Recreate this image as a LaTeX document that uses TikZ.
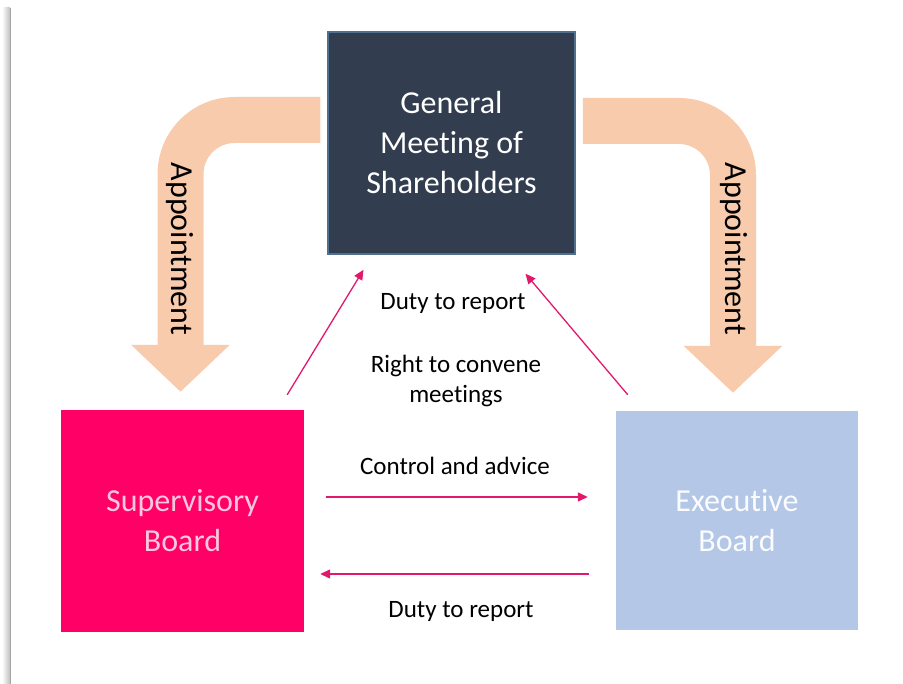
\documentclass[tikz,border=0pt]{standalone}
\usepackage{fontspec}
\setmainfont{Carlito}[Ligatures=NoCommon]
\usetikzlibrary{arrows.meta}
\definecolor{gmfill}{HTML}{323E4F}
\definecolor{gmline}{HTML}{50708F}
\definecolor{sbfill}{HTML}{FF0066}
\definecolor{sbtext}{HTML}{FAC8DE}
\definecolor{ebfill}{HTML}{B4C7E7}
\definecolor{apptorange}{HTML}{F8CBAD}
\definecolor{dutyred}{HTML}{E0196C}
\tikzstyle{board} = [rectangle, align=center, inner sep=0pt, font=\fontsize{32}{40}\selectfont]
\tikzstyle{note} = [align=center, inner sep=0pt, font=\fontsize{25}{30}\selectfont]
\tikzstyle{appt} = [draw=apptorange, line width=46pt, rounded corners=54pt, -{Triangle[length=47pt,width=96pt]}, shorten <=7pt, shorten >=18pt]
\tikzstyle{rel} = [draw=dutyred, line width=1.3pt, -{Triangle[length=10pt,width=9pt]}]

\begin{document}
\begin{tikzpicture}[x=1pt, y=-1pt]
  \useasboundingbox (0,0) rectangle (903,684);
  % page edge
  \shade[left color=white, right color=black!25] (2,8) rectangle (10,684);
  \draw[black!35, line width=1.2pt] (10.5,8) -- (10.5,684);

  % General meeting
  \node[board, fill=gmfill, draw=gmline, line width=1.5pt, text=white,
        minimum width=247pt, minimum height=222pt] (GM) at (451.5,143) {General\\Meeting of\\Shareholders};

  % Boards
  \node[board, fill=sbfill, text=sbtext, minimum width=243pt, minimum height=222pt] (SB) at (182.5,521) {Supervisory\\Board};
  \node[board, fill=ebfill, text=white!95!ebfill, minimum width=242pt, minimum height=219pt] (EB) at (737,520.5) {Executive\\Board};

  % Appointment
  \draw[appt] ([yshift=23pt]GM.west) -| ([xshift=-2pt]SB.north);
  \draw[appt] ([yshift=22pt]GM.east) -| ([xshift=-4pt]EB.north);
  \node[board, rotate=-90, text=black] (apptL) at (180,249) {Appointment};
  \node[board, rotate=-90, text=black] (apptR) at (734,249) {Appointment};

  % Reporting and control
  \draw[rel] ([xshift=-17pt,yshift=15pt]SB.north east) -- ([xshift=-88pt,yshift=-15pt]GM.south);
  \draw[rel] ([xshift=12pt,yshift=16pt]EB.north west) -- ([xshift=74pt,yshift=-19pt]GM.south);
  \draw[rel] ([xshift=22pt,yshift=24pt]SB.east) -- ([xshift=-28pt,yshift=23.5pt]EB.west);
  \draw[rel] ([xshift=-27pt,yshift=-53.5pt]EB.west) -- ([xshift=16pt,yshift=-53pt]SB.east);

  % Labels
  \node[note] (dutyTop) at (453,303) {Duty to report};
  \node[note] (convene) at (456,381) {Right to convene\\meetings};
  \node[note] (control) at (455,466) {Control and advice};
  \node[note] (dutyBot) at (461,611) {Duty to report};
\end{tikzpicture}
\end{document}
